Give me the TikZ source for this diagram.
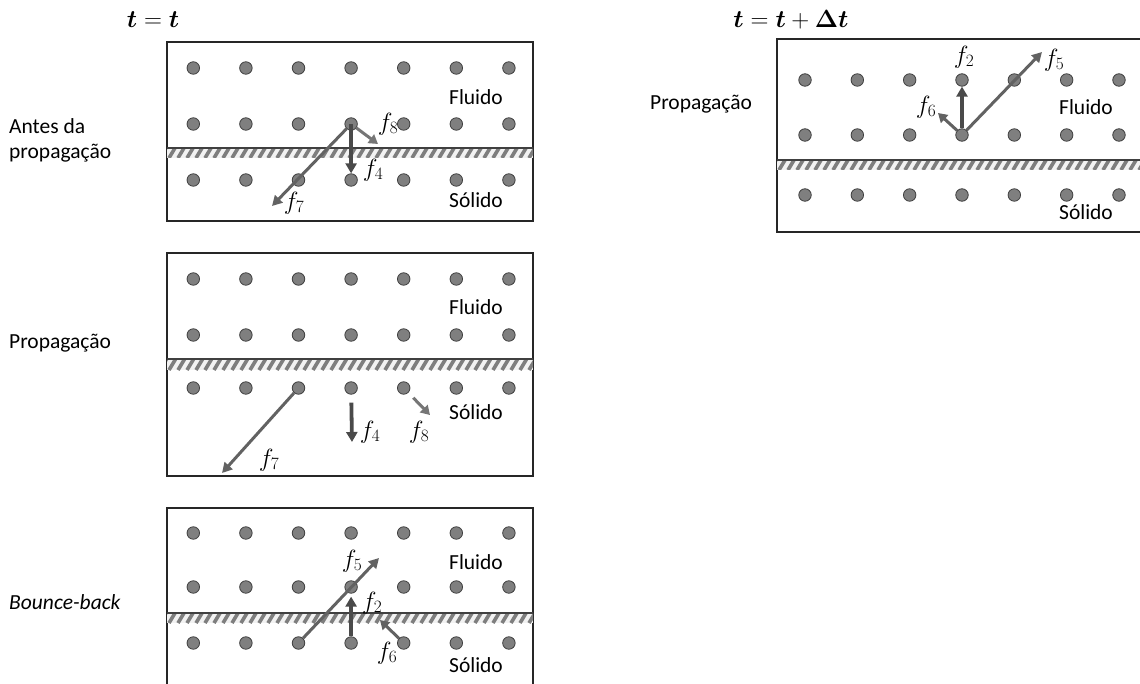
\documentclass[tikz,border=0pt]{standalone}
\usepackage{fontspec}
\usepackage{bm}
\setmainfont{Carlito}
\usetikzlibrary{arrows.meta}

\definecolor{dotfill}{HTML}{7F7F7F}
\definecolor{dotline}{HTML}{404040}
\definecolor{bandbg}{HTML}{F2F2F2}
\definecolor{hatchc}{HTML}{7E7E7E}
\definecolor{arrdark}{HTML}{4A4A4A}
\definecolor{arrmid}{HTML}{626262}
\definecolor{arrlight}{HTML}{767676}

\tikzset{
  dot/.style={circle, fill=dotfill, draw=dotline, line width=0.8pt, minimum size=12.5pt, inner sep=0pt},
  panel/.style={draw=black!85, line width=1.2pt},
  wall/.style={draw=dotline, line width=1.5pt},
  hatch/.style={draw=hatchc, line width=3.6pt},
  lbl/.style={font=\fontsize{21.5}{26}\selectfont, inner sep=0pt},
  side/.style={font=\fontsize{21.5}{25}\selectfont, align=left, anchor=west, inner sep=0pt},
  flab/.style={font=\fontsize{23}{26}\selectfont, inner sep=0pt},
  vflow/.style={draw=arrdark, line width=3.8pt, -{Triangle[length=10pt,width=11pt]}},
  dflow/.style={draw=arrmid, line width=3pt, -{Triangle[length=10pt,width=10.5pt]}},
  sflow/.style={draw=arrlight, line width=3pt, -{Triangle[length=9pt,width=10.5pt]}},
}

\begin{document}
\begin{tikzpicture}[x=1pt, y=-1pt]
\path[use as bounding box, clip] (0,0) rectangle (1140,684);

% ---------- time labels ----------
\node[flab] (tnow) at (153,20) {$\bm{t}=\bm{t}$};
\node[flab] (tnext) at (791,20) {$\bm{t}=\bm{t}+\bm{\Delta}\bm{t}$};

% ---------- row labels ----------
\node[side] (lab1) at (9,140.5) {Antes da\\propagação};
\node[side] (lab2) at (9,343) {Propagação};
\node[side] (lab3) at (9,602) {\itshape Bounce-back};
\node[side] (lab4) at (650,104) {Propagação};

% ---------- panel 1: before streaming ----------
\draw[panel] (167,42) rectangle (533,221);
\fill[bandbg] (167,148) rectangle (533,158);
\begin{scope}
  \clip (167,148) rectangle (533,158);
  \foreach \k in {0,...,42} \draw[hatch] ({160+9*\k},158) -- ++(6,-10);
\end{scope}
\draw[wall] (167,148) -- (533,148);
\foreach \c in {1,...,7}
  \foreach \r/\yy in {1/68,2/124,3/180}
    \node[dot] (a\r\c) at ({193.3+52.6*(\c-1)},\yy) {};
\node[lbl] (fl1) at (476,97) {Fluido};
\node[lbl] (so1) at (476,200) {Sólido};
\coordinate (a-f8) at (378,144);
\coordinate (a-f7) at (272,206);
\draw[dflow] (a24) -- (a-f7);
\draw[vflow] (a24.center) -- (a34.north);
\draw[sflow] (a24) -- (a-f8);
\node[flab] (a-l8) at (388,124) {$f_8$};
\node[flab] (a-l4) at (373,170) {$f_4$};
\node[flab] (a-l7) at (294,203) {$f_7$};

% ---------- panel 2: streaming ----------
\draw[panel] (167,253) rectangle (533,476);
\fill[bandbg] (167,359) rectangle (533,370);
\begin{scope}
  \clip (167,359) rectangle (533,370);
  \foreach \k in {0,...,42} \draw[hatch] ({160+9*\k},370) -- ++(6.6,-11);
\end{scope}
\draw[wall] (167,359) -- (533,359);
\foreach \c in {1,...,7}
  \foreach \r/\yy in {1/279,2/335,3/388}
    \node[dot] (b\r\c) at ({193.3+52.6*(\c-1)},\yy) {};
\node[lbl] (fl2) at (476,307) {Fluido};
\node[lbl] (so2) at (476,412) {Sólido};
\coordinate (b-f7) at (222,473);
\coordinate (b-f4) at (352,442);
\coordinate (b-f8) at (430,415);
\draw[dflow] (b33) -- (b-f7);
\draw[vflow, shorten <=8pt] (b34) -- (b-f4);
\draw[sflow, shorten <=7pt] (b35) -- (b-f8);
\node[flab] (b-l7) at (269,460) {$f_7$};
\node[flab] (b-l4) at (370,432) {$f_4$};
\node[flab] (b-l8) at (419,432) {$f_8$};

% ---------- panel 3: bounce-back ----------
\draw[panel] (167,508) rectangle (533,720);
\fill[bandbg] (167,613) rectangle (533,623);
\begin{scope}
  \clip (167,613) rectangle (533,623);
  \foreach \k in {0,...,42} \draw[hatch] ({160+9*\k},623) -- ++(6,-10);
\end{scope}
\draw[wall] (167,613) -- (533,613);
\foreach \c in {1,...,7}
  \foreach \r/\yy in {1/533,2/587,3/643}
    \node[dot] (c\r\c) at ({193.3+52.6*(\c-1)},\yy) {};
\node[lbl] (fl3) at (476,562) {Fluido};
\node[lbl] (so3) at (476,665) {Sólido};
\coordinate (c-f5) at (379,558);
\coordinate (c-f6) at (380,620);
\draw[dflow] (c33) -- (c-f5);
\draw[vflow, shorten >=3pt] (c34) -- (c24);
\draw[sflow, draw=arrmid] (c35) -- (c-f6);
\node[flab] (c-l5) at (352,561) {$f_5$};
\node[flab] (c-l2) at (372,603) {$f_2$};
\node[flab] (c-l6) at (387,653) {$f_6$};

% ---------- panel 4: next time step ----------
\draw[panel] (777,39) rectangle (1160,232);
\fill[bandbg] (777,160) rectangle (1160,170);
\begin{scope}
  \clip (777,160) rectangle (1160,170);
  \foreach \k in {0,...,44} \draw[hatch] ({770+9*\k},170) -- ++(6,-10);
\end{scope}
\draw[wall] (777,160) -- (1160,160);
\foreach \c in {1,...,7}
  \foreach \r/\yy in {1/80,2/135,3/195}
    \node[dot] (d\r\c) at ({805+52.33*(\c-1)},\yy) {};
\node[lbl] (fl4) at (1086,107) {Fluido};
\node[lbl] (so4) at (1086,212) {Sólido};
\coordinate (d-f5) at (1042,52);
\coordinate (d-f6) at (938,113);
\draw[dflow] (d24) -- (d-f5);
\draw[vflow] (d24) -- (d14);
\draw[sflow, draw=arrmid] (d24) -- (d-f6);
\node[flab] (d-l2) at (964,57) {$f_2$};
\node[flab] (d-l5) at (1054,60) {$f_5$};
\node[flab] (d-l6) at (926,107) {$f_6$};
\end{tikzpicture}
\end{document}
